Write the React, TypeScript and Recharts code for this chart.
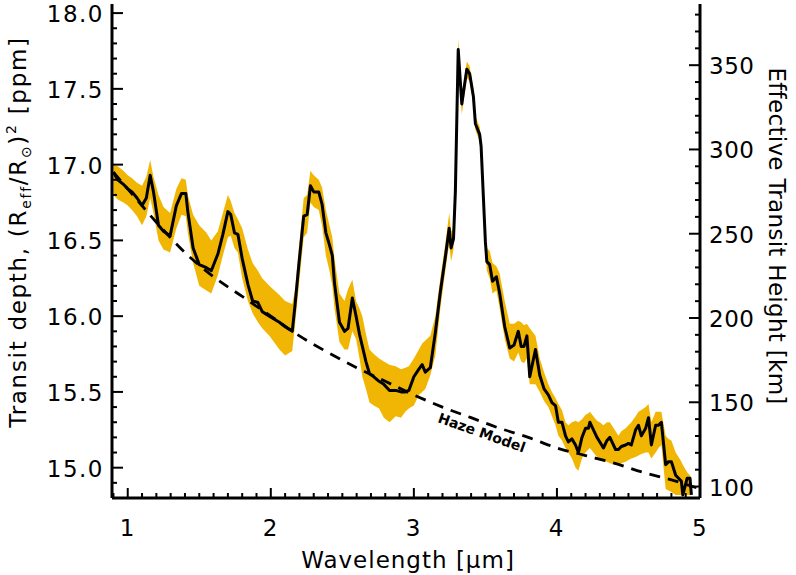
import { ComposedChart, XAxis, YAxis, Area, Line, ReferenceDot } from "recharts";

const FONT = "'DejaVu Sans', sans-serif";
const GOLD = "#f1b604";

// wavelength in micron, transit depth in ppm, band = 1 sigma envelope
const wavelength = [
  0.9, 0.93, 0.97, 1.0, 1.03, 1.065, 1.1, 1.13, 1.157, 1.18, 1.215, 1.25, 1.296, 1.34, 1.376, 1.406, 1.42,
  1.457, 1.5, 1.55, 1.584, 1.63, 1.665, 1.7, 1.72, 1.746, 1.77, 1.8, 1.84, 1.873, 1.91, 1.94, 1.99, 2.06,
  2.1, 2.15, 2.17, 2.196, 2.23, 2.254, 2.277, 2.3, 2.335, 2.358, 2.385, 2.41, 2.43, 2.445, 2.48, 2.515,
  2.54, 2.57, 2.596, 2.62, 2.64, 2.665, 2.69, 2.72, 2.757, 2.79, 2.83, 2.873, 2.91, 2.94, 2.965, 3.0,
  3.035, 3.058, 3.08, 3.115, 3.15, 3.185, 3.22, 3.247, 3.26, 3.277, 3.29, 3.31, 3.335, 3.37, 3.39, 3.416,
  3.43, 3.46, 3.47, 3.5, 3.51, 3.53, 3.55, 3.577, 3.6, 3.635, 3.67, 3.7, 3.73, 3.75, 3.77, 3.79, 3.81,
  3.85, 3.88, 3.91, 3.94, 3.965, 3.99, 4.01, 4.035, 4.06, 4.08, 4.105, 4.13, 4.15, 4.175, 4.2, 4.22,
  4.23, 4.255, 4.28, 4.3, 4.325, 4.35, 4.37, 4.41, 4.43, 4.45, 4.48, 4.5, 4.52, 4.55, 4.57, 4.59, 4.62,
  4.64, 4.66, 4.69, 4.71, 4.73, 4.76, 4.78, 4.8, 4.83, 4.85, 4.87, 4.88, 4.91, 4.93, 4.94,
];
const depth = [
  16.95, 16.9, 16.87, 16.84, 16.82, 16.78, 16.73, 16.78, 16.93, 16.82, 16.6, 16.56, 16.53, 16.73, 16.81, 16.81, 16.69,
  16.45, 16.34, 16.32, 16.3, 16.41, 16.54, 16.69, 16.67, 16.55, 16.54, 16.38, 16.21, 16.1, 16.09, 16.03, 16.0, 15.96,
  15.93, 15.9, 16.08, 16.34, 16.66, 16.67, 16.86, 16.82, 16.82, 16.74, 16.55, 16.47, 16.4, 16.22, 15.96, 15.9,
  15.92, 16.12, 16.0, 15.88, 15.8, 15.7, 15.62, 15.6, 15.57, 15.55, 15.51, 15.51, 15.5, 15.5, 15.51, 15.6,
  15.65, 15.68, 15.63, 15.66, 15.89, 16.16, 16.39, 16.58, 16.45, 16.51, 16.82, 17.76, 17.4, 17.63, 17.6, 17.45,
  17.27, 17.2, 17.12, 16.49, 16.36, 16.34, 16.23, 16.26, 16.15, 15.93, 15.79, 15.81, 15.9, 15.8, 15.8, 15.87, 15.6,
  15.78, 15.61, 15.52, 15.48, 15.43, 15.41, 15.3, 15.3, 15.21, 15.17, 15.19, 15.15, 15.1, 15.2, 15.26, 15.26,
  15.3, 15.25, 15.2, 15.17, 15.13, 15.18, 15.2, 15.12, 15.12, 15.14, 15.15, 15.16, 15.15, 15.25, 15.28, 15.21, 15.26,
  15.33, 15.15, 15.28, 15.28, 15.3, 15.02, 15.04, 15.04, 14.95, 14.93, 14.91, 14.82, 14.93, 14.93, 14.82,
];
const bandLow = [
  16.8, 16.77, 16.75, 16.73, 16.7, 16.66, 16.6, 16.66, 16.78, 16.68, 16.5, 16.44, 16.42, 16.58, 16.67, 16.66, 16.55,
  16.35, 16.2, 16.17, 16.15, 16.27, 16.4, 16.52, 16.53, 16.45, 16.42, 16.25, 16.1, 16.02, 15.96, 15.92, 15.87, 15.78,
  15.74, 15.77, 15.95, 16.2, 16.52, 16.55, 16.75, 16.72, 16.7, 16.6, 16.4, 16.3, 16.2, 16.05, 15.83, 15.78,
  15.78, 15.9, 15.85, 15.72, 15.6, 15.52, 15.43, 15.41, 15.39, 15.33, 15.3, 15.34, 15.33, 15.37, 15.39, 15.41,
  15.48, 15.5, 15.52, 15.61, 15.74, 16.05, 16.3, 16.48, 16.36, 16.44, 16.75, 17.68, 17.33, 17.57, 17.55, 17.4,
  17.23, 17.15, 17.07, 16.42, 16.3, 16.25, 16.15, 16.17, 16.05, 15.85, 15.72, 15.7, 15.76, 15.7, 15.69, 15.72, 15.55,
  15.55, 15.5, 15.44, 15.4, 15.34, 15.28, 15.21, 15.18, 15.13, 15.1, 15.06, 15.0, 14.98, 15.06, 15.1, 15.12,
  15.13, 15.1, 15.07, 15.05, 15.04, 15.04, 15.03, 15.02, 15.02, 15.03, 15.04, 15.05, 15.06, 15.07, 15.08, 15.09, 15.1,
  15.1, 15.06, 15.1, 15.13, 15.15, 14.86, 14.85, 14.84, 14.82, 14.82, 14.82, 14.82, 14.82, 14.82, 14.82,
];
const bandHigh = [
  17.0, 16.99, 16.96, 16.93, 16.91, 16.88, 16.86, 16.92, 17.03, 16.92, 16.8, 16.72, 16.68, 16.84, 16.91, 16.9, 16.8,
  16.67, 16.6, 16.55, 16.5, 16.56, 16.68, 16.8, 16.76, 16.68, 16.64, 16.58, 16.44, 16.35, 16.3, 16.25, 16.2, 16.14,
  16.1, 16.08, 16.18, 16.45, 16.78, 16.8, 16.96, 16.93, 16.9, 16.85, 16.7, 16.6, 16.52, 16.38, 16.15, 16.1,
  16.18, 16.24, 16.1, 16.05, 16.0, 15.88, 15.78, 15.75, 15.72, 15.7, 15.68, 15.67, 15.65, 15.66, 15.67, 15.72,
  15.78, 15.82, 15.84, 15.87, 16.0, 16.25, 16.48, 16.68, 16.56, 16.58, 16.88, 17.83, 17.46, 17.68, 17.65, 17.5,
  17.32, 17.25, 17.17, 16.56, 16.45, 16.43, 16.35, 16.33, 16.28, 16.1, 15.95, 15.95, 15.97, 15.96, 15.94, 15.95, 15.92,
  15.87, 15.72, 15.63, 15.55, 15.5, 15.46, 15.42, 15.38, 15.3, 15.28, 15.3, 15.31, 15.3, 15.32, 15.35, 15.36,
  15.37, 15.34, 15.31, 15.3, 15.28, 15.3, 15.3, 15.24, 15.21, 15.24, 15.26, 15.28, 15.3, 15.34, 15.37, 15.38, 15.4,
  15.42, 15.3, 15.37, 15.37, 15.37, 15.21, 15.19, 15.18, 15.1, 15.07, 15.04, 15.02, 14.97, 14.95, 14.93,
];

// haze-only model
const hazeWavelength = [0.9, 1.0, 1.2, 1.4, 1.6, 1.8, 2.0, 2.2, 2.4, 2.6, 2.8, 3.0, 3.2, 3.4, 3.6, 3.8, 4.0, 4.2, 4.4, 4.6, 4.8, 5.0];
const hazeDepth = [16.95, 16.84, 16.62, 16.42, 16.26, 16.13, 16.0, 15.87, 15.76, 15.66, 15.57, 15.48, 15.4, 15.33, 15.26, 15.2, 15.13, 15.08, 15.03, 14.97, 14.92, 14.86];

const xMajor = [1, 2, 3, 4, 5];
const depthMajor = [15.0, 15.5, 16.0, 16.5, 17.0, 17.5, 18.0];
const kmMajor = [100, 150, 200, 250, 300, 350];

const xTicks = Array.from({ length: 42 }, (_, i) => (i + 9) / 10);
const depthTicks = Array.from({ length: 32 }, (_, i) => (i + 149) / 10);
const kmTicks = Array.from({ length: 29 }, (_, i) => 100 + i * 10);

const spectrum = wavelength.map((x, i) => ({
  x,
  depth: depth[i],
  band: [bandLow[i], bandHigh[i]],
}));
const haze = hazeWavelength.map((x, i) => ({ x, haze: hazeDepth[i] }));

const isMajor = (v: number, list: number[]) => list.some((m) => Math.abs(m - v) < 1e-6);

const labelStyle = { fontFamily: FONT, fontSize: 23, fill: "#000", letterSpacing: 1.5 };

function BottomTick({ x, y, payload }: any) {
  const major = isMajor(payload.value, xMajor);
  return (
    <g>
      <line x1={x} x2={x} y1={y} y2={y - (major ? 10 : 5)} stroke="#000" strokeWidth={2} />
      {major && (
        <text x={x} y={y + 30} textAnchor="middle" dominantBaseline="central" {...labelStyle}>
          {payload.value}
        </text>
      )}
    </g>
  );
}

function TopTick({ x, y, payload }: any) {
  const major = isMajor(payload.value, xMajor);
  return <line x1={x} x2={x} y1={y} y2={y + (major ? 10 : 5)} stroke="#000" strokeWidth={2} />;
}

function LeftTick({ x, y, payload }: any) {
  const major = isMajor(payload.value, depthMajor);
  return (
    <g>
      <line x1={x} x2={x + (major ? 11 : 5)} y1={y} y2={y} stroke="#000" strokeWidth={2} />
      {major && (
        <text x={x - 8} y={y + 1} textAnchor="end" dominantBaseline="central" {...labelStyle}>
          {payload.value.toFixed(1)}
        </text>
      )}
    </g>
  );
}

function RightTick({ x, y, payload }: any) {
  const major = isMajor(payload.value, kmMajor);
  return (
    <g>
      <line x1={x} x2={x - (major ? 11 : 5)} y1={y} y2={y} stroke="#000" strokeWidth={2} />
      {major && (
        <text x={x + 9} y={y + 1} textAnchor="start" dominantBaseline="central" {...labelStyle} letterSpacing={0.5}>
          {payload.value}
        </text>
      )}
    </g>
  );
}

function HazeLabel({ cx, cy }: any) {
  return (
    <text
      x={cx}
      y={cy}
      dy={11}
      transform={`rotate(19.5, ${cx}, ${cy})`}
      textAnchor="middle"
      dominantBaseline="central"
      fontFamily={FONT}
      fontSize={14}
      fontWeight="bold"
      fill="#000"
    >
      Haze Model
    </text>
  );
}

const frame = { stroke: "#000", strokeWidth: 3 };

export default function App() {
  return (
    <div style={{ position: "absolute", left: 0, top: 0, width: 796, height: 575, background: "#fff" }}>
      <ComposedChart
        width={796}
        height={575}
        data={spectrum}
        margin={{ top: 4, right: 0, bottom: 0, left: 0 }}
      >
        <XAxis
          xAxisId="b"
          dataKey="x"
          type="number"
          domain={[0.89, 5]}
          allowDataOverflow
          ticks={xTicks}
          interval={0}
          tickSize={0}
          tickMargin={0}
          tickLine={false}
          axisLine={frame}
          height={77}
          tick={<BottomTick />}
          label={{
            content: ({ viewBox }: any) => (
              <text
                x={viewBox.x + viewBox.width / 2 + 2}
                y={viewBox.y + 62}
                textAnchor="middle"
                dominantBaseline="central"
                {...labelStyle}
                letterSpacing={1}
              >
                Wavelength [μm]
              </text>
            ),
          }}
        />
        <XAxis
          xAxisId="top"
          orientation="top"
          dataKey="x"
          type="number"
          domain={[0.89, 5]}
          allowDataOverflow
          ticks={xTicks}
          interval={0}
          tickSize={0}
          tickMargin={0}
          tickLine={false}
          axisLine={frame}
          height={0}
          tick={<TopTick />}
        />
        <YAxis
          yAxisId="l"
          type="number"
          domain={[14.8, 18.06]}
          allowDataOverflow
          ticks={depthTicks}
          interval={0}
          tickSize={0}
          tickMargin={0}
          tickLine={false}
          axisLine={frame}
          width={112}
          tick={<LeftTick />}
          label={{
            content: () => (
              <text
                x={26}
                y={232}
                transform="rotate(-90, 26, 232)"
                textAnchor="middle"
                {...labelStyle}
                letterSpacing={1.7}
              >
                Transit depth, (R
                <tspan fontSize={14} dy={5}>eff</tspan>
                <tspan dy={-5}>/R</tspan>
                <tspan fontSize={14} dy={5}>⊙</tspan>
                <tspan dy={-5}>)</tspan>
                <tspan fontSize={14} dy={-10}>2</tspan>
                <tspan dy={10}> [ppm]</tspan>
              </text>
            ),
          }}
        />
        <YAxis
          yAxisId="km"
          orientation="right"
          type="number"
          domain={[93.2, 386.3]}
          allowDataOverflow
          ticks={kmTicks}
          interval={0}
          tickSize={0}
          tickMargin={0}
          tickLine={false}
          axisLine={frame}
          width={96}
          tick={<RightTick />}
          label={{
            content: () => (
              <text
                x={769}
                y={236}
                transform="rotate(90, 769, 236)"
                textAnchor="middle"
                {...labelStyle}
                letterSpacing={0.3}
              >
                Effective Transit Height [km]
              </text>
            ),
          }}
        />
        <Area
          xAxisId="b"
          yAxisId="l"
          type="linear"
          dataKey="band"
          stroke="none"
          fill={GOLD}
          fillOpacity={1}
          isAnimationActive={false}
        />
        <Line
          xAxisId="b"
          yAxisId="l"
          data={haze}
          type="monotone"
          dataKey="haze"
          stroke="#000"
          strokeWidth={2.8}
          strokeDasharray="11 8"
          dot={false}
          isAnimationActive={false}
        />
        <Line
          xAxisId="b"
          yAxisId="l"
          type="linear"
          dataKey="depth"
          stroke="#000"
          strokeWidth={3}
          strokeLinejoin="round"
          dot={false}
          isAnimationActive={false}
        />
        <ReferenceDot xAxisId="b" yAxisId="l" x={3.5} y={15.3} r={0} shape={<HazeLabel />} />
      </ComposedChart>
    </div>
  );
}
